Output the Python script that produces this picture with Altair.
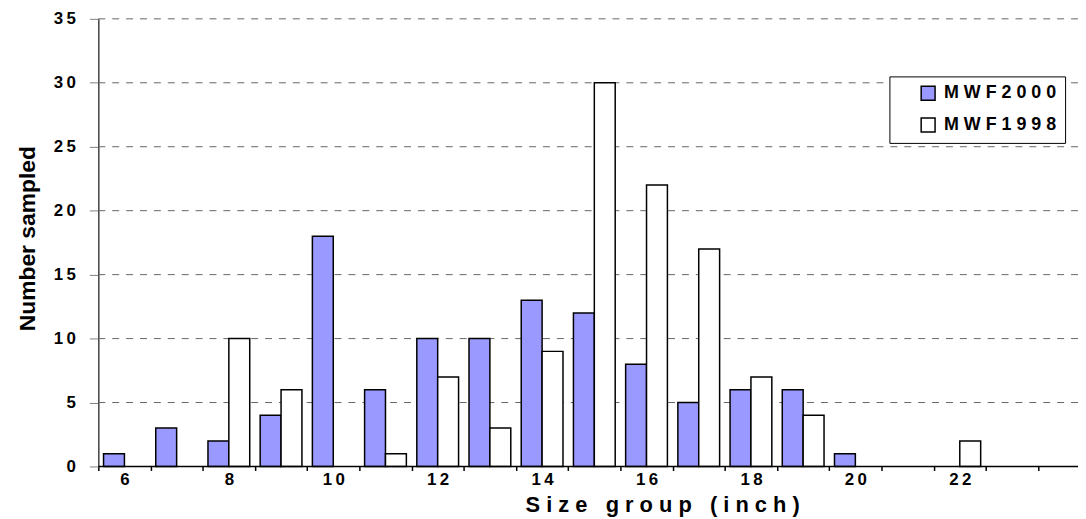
import altair as alt
import pandas as pd

# ---- data ----
sizes = list(range(6, 24))
mwf2000 = [1, 3, 2, 4, 18, 6, 10, 10, 13, 12, 8, 5, 6, 6, 1, 0, 0, 0]
mwf1998 = [0, 0, 10, 6, 0, 1, 7, 3, 9, 30, 22, 17, 7, 4, 0, 0, 2, 0]
series = ["MWF2000", "MWF1998"]
colors = ["#9999FF", "#FFFFFF"]
y_ticks = list(range(0, 36, 5))
x_title = "Size group (inch)"
y_title = "Number sampled"

rows = []
for s, a, b in zip(sizes, mwf2000, mwf1998):
    rows.append({"size": s, "series": series[0], "count": a})
    rows.append({"size": s, "series": series[1], "count": b})
df = pd.DataFrame(rows)

NB = "\u00a0"
TH = "\u2009"
x_title_spaced = NB.join(x_title.replace(" ", NB))

FONT = "Liberation Sans"
STEP = 52.6
PLOT_W = 987
PLOT_H = 451

y_scale = alt.Scale(domain=[0, 35])

grid = (
    alt.Chart(pd.DataFrame({"tick": y_ticks[1:]}))
    .mark_rule(color="#666666", strokeWidth=1, strokeDash=[7, 7])
    .encode(y=alt.Y("tick:Q", scale=y_scale))
)

bars = (
    alt.Chart(df)
    .transform_filter("datum.count > 0")
    .mark_bar(stroke="black", strokeWidth=1.5)
    .encode(
        x=alt.X(
            "size:O",
            scale=alt.Scale(domain=sizes, range=[0, STEP * len(sizes)],
                            paddingInner=0, paddingOuter=0),
            axis=alt.Axis(
                title=x_title_spaced,
                titleFont=FONT, titleFontSize=22, titleFontWeight="bold",
                titleColor="black", titleX=568, titleY=45,
                titleAlign="center", titleBaseline="alphabetic",
                labelExpr="datum.value % 2 == 0 ? join(split(datum.label, ''), '" + TH + "') : ''",
                labelAngle=0, labelFont=FONT, labelFontSize=17,
                labelFontWeight="bold", labelColor="black",
                labelBaseline="alphabetic", labelPadding=14,
                tickSize=4, tickColor="black", tickWidth=1.5,
                tickBand="extent", domain=False, grid=False,
            ),
        ),
        xOffset=alt.XOffset(
            "series:N", sort=series,
            scale=alt.Scale(domain=series, paddingInner=0, paddingOuter=0.25),
        ),
        y=alt.Y(
            "count:Q",
            scale=y_scale,
            axis=alt.Axis(
                title=y_title,
                titleFont=FONT, titleFontSize=23, titleFontWeight="bold",
                titleColor="black", titleX=-64, titleY=221,
                titleAlign="center", titleBaseline="alphabetic",
                values=y_ticks,
                labelExpr="join(split(datum.label, ''), '" + TH + "')",
                labelFont=FONT, labelFontSize=17, labelFontWeight="bold",
                labelColor="black", labelPadding=14,
                tickSize=9, tickColor="#808080", tickWidth=1,
                domainColor="#404040", domainWidth=1.5,
                grid=False,
            ),
        ),
        fill=alt.Fill(
            "series:N", sort=series,
            scale=alt.Scale(domain=series, range=colors),
            legend=alt.Legend(
                title=None, orient="none", legendX=797, legendY=58,
                direction="vertical", padding=8, symbolOffset=22,
                symbolType="square", symbolSize=196,
                symbolStrokeColor="black", symbolStrokeWidth=1.5,
                labelFont=FONT, labelFontSize=18, labelFontWeight="bold",
                labelColor="black", labelOffset=7, rowPadding=12,
                strokeColor="black", fillColor="white",
                labelExpr="join(split(datum.label, ''), '" + NB + "')",
            ),
        ),
    )
)

baseline = (
    alt.Chart(pd.DataFrame({"zero": [0]}))
    .mark_rule(color="black", strokeWidth=1.5)
    .encode(y=alt.datum(0))
)

chart = (
    alt.layer(grid, bars, baseline)
    .properties(
        width=PLOT_W, height=PLOT_H,
        autosize=alt.AutoSizeParams(type="none"),
        padding={"left": 91, "top": 9, "right": 0, "bottom": 52},
        background="white",
    )
    .configure_view(stroke=None)
)

chart.save("out.html", embed_options={"renderer": "svg", "actions": False})
